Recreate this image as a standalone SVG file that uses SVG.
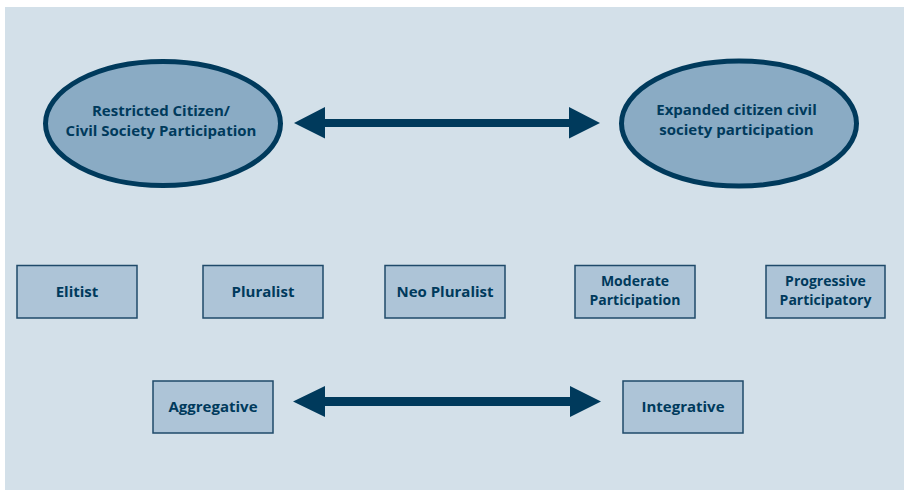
<svg xmlns="http://www.w3.org/2000/svg" width="909" height="490" viewBox="0 0 909 490">
<style>
.bg{fill:#d3e0e9}
.ell{fill:#8aabc4;stroke:#003a5c;stroke-width:5}
.box{fill:#adc4d7;stroke:#1f4a6a;stroke-width:1.5}
.arrow{fill:#003a5c}
text{font-family:"Open Sans","Liberation Sans",sans-serif;font-weight:bold;font-size:15px;fill:#003a5c;text-anchor:middle}
text.sm{font-size:14px}
</style>
<rect class="bg" x="5" y="7" width="899" height="483"/>
<g id="restricted">
<ellipse class="ell" cx="163" cy="123.5" rx="117.5" ry="62"/>
<text x="161" y="116">Restricted Citizen/</text>
<text x="161" y="136">Civil Society Participation</text>
</g>
<g id="expanded">
<ellipse class="ell" cx="739" cy="123.5" rx="117.5" ry="62.5"/>
<text x="736.5" y="115">Expanded citizen civil</text>
<text x="736.5" y="135">society participation</text>
</g>
<g id="elitist">
<rect class="box" x="17" y="265.5" width="120" height="52.5"/>
<text x="77" y="296.5">Elitist</text>
</g>
<g id="pluralist">
<rect class="box" x="203" y="265.5" width="120" height="52.5"/>
<text x="263" y="296.5">Pluralist</text>
</g>
<g id="neopluralist">
<rect class="box" x="385" y="265.5" width="120" height="52.5"/>
<text x="445" y="296.5">Neo Pluralist</text>
</g>
<g id="moderate">
<rect class="box" x="575" y="265.5" width="120" height="52.5"/>
<text class="sm" x="635" y="285.8">Moderate</text>
<text class="sm" x="635" y="305">Participation</text>
</g>
<g id="progressive">
<rect class="box" x="766" y="265.5" width="119" height="52.5"/>
<text class="sm" x="825.5" y="285.8">Progressive</text>
<text class="sm" x="825.5" y="305">Participatory</text>
</g>
<g id="aggregative">
<rect class="box" x="153" y="381" width="120" height="52"/>
<text x="213" y="412">Aggregative</text>
</g>
<g id="integrative">
<rect class="box" x="623" y="381" width="120" height="52"/>
<text x="683" y="412">Integrative</text>
</g>
<g id="connectors">
<path class="arrow" d="M294,123 L325,107 L325,119 L569,119 L569,107 L600,123 L569,138.5 L569,127 L325,127 L325,138.5 Z"/>
<path class="arrow" d="M293,401.5 L325,386 L325,397 L570,397 L570,386 L601,401.5 L570,417 L570,406 L325,406 L325,417 Z"/>
</g>
</svg>
